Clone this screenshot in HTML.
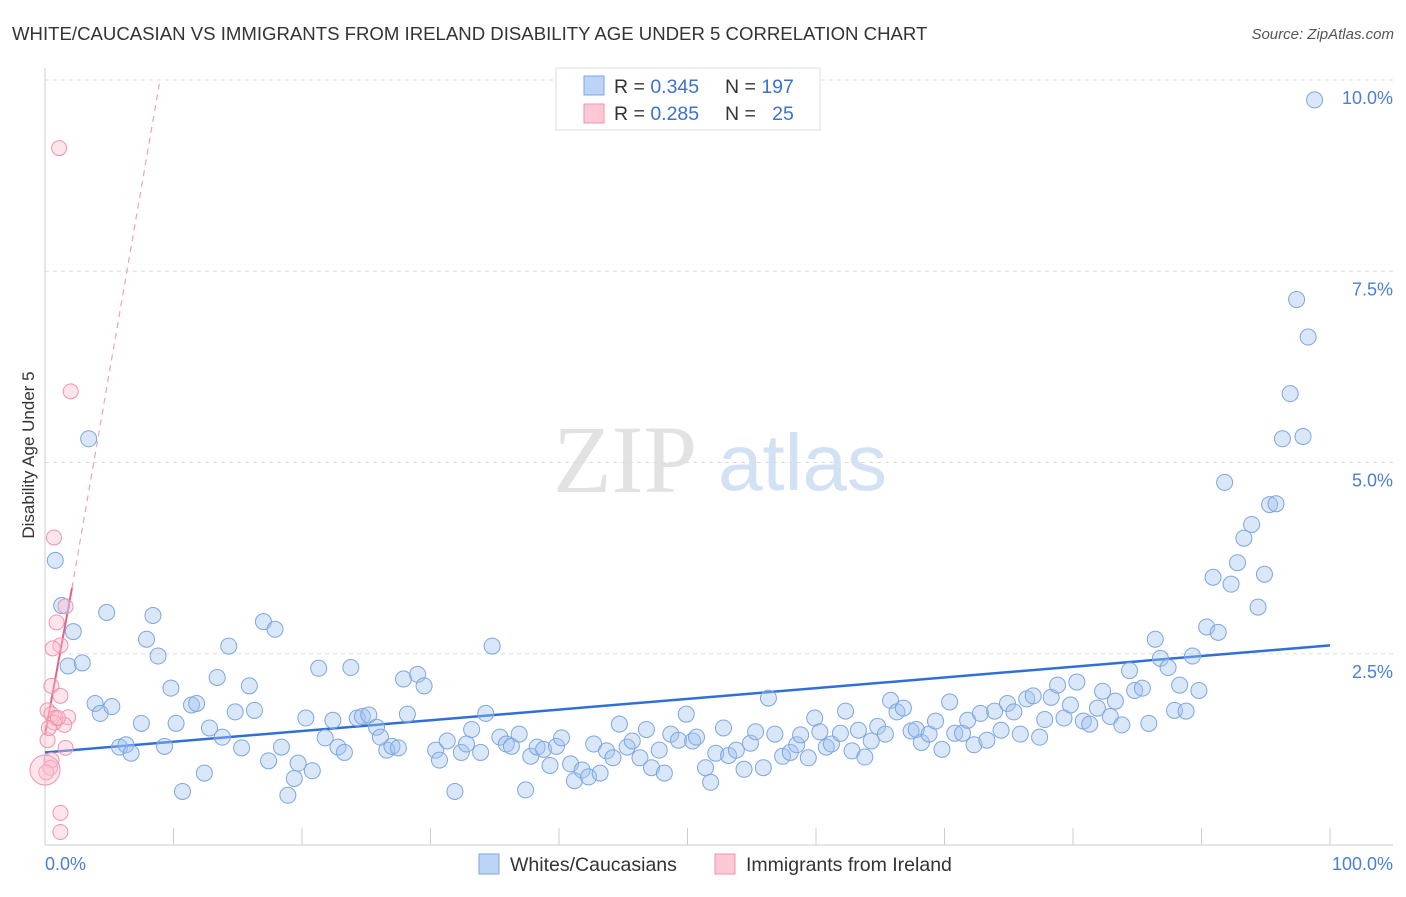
<!DOCTYPE html>
<html><head><meta charset="utf-8"><style>
body{margin:0;background:#fff;font-family:"Liberation Sans",sans-serif;}
svg text{font-family:"Liberation Sans",sans-serif;}
</style></head><body>
<svg id="chart" width="1406" height="892" viewBox="0 0 1406 892" xmlns="http://www.w3.org/2000/svg">
<text x="12" y="40" font-size="18.6" fill="#333">WHITE/CAUCASIAN VS IMMIGRANTS FROM IRELAND DISABILITY AGE UNDER 5 CORRELATION CHART</text>
<text x="1394" y="39" font-size="15" fill="#555" font-style="italic" text-anchor="end">Source: ZipAtlas.com</text>
<g>
<text x="553" y="492" font-size="96" fill="#e2e2e2" style="font-family:'Liberation Serif',serif">ZIP</text>
<text x="718" y="490" font-size="80" fill="#d3e1f4">atlas</text>
</g>
<g id="grid"></g>
<g id="axes"></g>
<g id="lines"></g>
<g id="pts"></g>
<text x="34" y="455" font-size="17" fill="#333" text-anchor="middle" transform="rotate(-90 34 455)">Disability Age Under 5</text>
<text x="45" y="870" font-size="18" fill="#4a7fd5">0.0%</text>
<text x="1393" y="870" font-size="18" fill="#4a7fd5" text-anchor="end">100.0%</text>
<g>
<rect x="556" y="68" width="264" height="62" fill="#fff" stroke="#ddd"/>
<rect x="584" y="76" width="20" height="19" fill="#bcd4f5" stroke="#7ea6e0"/>
<rect x="584" y="104" width="20" height="19" fill="#fcc8d6" stroke="#ef93ae"/>
<text x="614" y="93" font-size="19.5" fill="#333">R = <tspan fill="#3a72d0">0.345</tspan></text>
<text x="725" y="93" font-size="19.5" fill="#333">N = <tspan fill="#3a72d0">197</tspan></text>
<text x="614" y="120" font-size="19.5" fill="#333">R = <tspan fill="#3a72d0">0.285</tspan></text>
<text x="725" y="120" font-size="19.5" fill="#333">N = <tspan fill="#3a72d0">&#160; 25</tspan></text>
</g>
<g>
<rect x="479" y="854" width="20" height="20" fill="#bcd4f5" stroke="#7ea6e0"/>
<text x="510" y="871" font-size="19.5" fill="#333">Whites/Caucasians</text>
<rect x="715" y="854" width="20" height="20" fill="#fcc8d6" stroke="#ef93ae"/>
<text x="746" y="871" font-size="19.5" fill="#333">Immigrants from Ireland</text>
</g>
</svg>
<script>
const yTicks=[2.5,5.0,7.5,10.0];
const yTickLabels=["2.5%","5.0%","7.5%","10.0%"];
const xTicks=[0,10,20,30,40,50,60,70,80,90,100];
const blueX=[3.4,0.8,1.3,2.2,1.8,2.9,3.9,4.3,5.2,4.8,5.8,6.3,6.7,7.5,7.9,8.4,8.8,9.3,9.8,10.2,10.7,11.4,11.8,12.4,12.8,13.4,13.8,14.3,14.8,15.3,15.9,16.3,17.0,17.4,17.9,18.4,18.9,19.4,19.7,20.3,20.8,21.3,21.8,22.4,22.8,23.3,23.8,24.3,24.7,25.2,25.8,26.1,26.6,27.0,27.5,27.9,28.2,29.0,29.5,30.4,30.7,31.3,31.9,32.4,32.8,33.2,33.9,34.3,34.8,35.4,35.9,36.3,36.9,37.4,37.8,38.3,38.8,39.3,39.8,40.2,40.9,41.2,41.8,42.3,42.7,43.2,43.7,44.2,44.7,45.3,45.7,46.3,46.8,47.2,47.8,48.2,48.7,49.3,49.9,50.4,50.7,51.4,51.8,52.2,52.8,53.2,53.8,54.4,54.9,55.3,55.9,56.3,56.8,57.4,58.0,58.5,58.8,59.4,59.9,60.3,60.8,61.2,61.9,62.3,62.8,63.3,63.8,64.3,64.8,65.4,65.8,66.3,66.8,67.4,67.8,68.2,68.8,69.3,69.8,70.4,70.8,71.4,71.8,72.3,72.8,73.3,73.9,74.4,74.9,75.4,75.9,76.4,76.9,77.4,77.8,78.3,78.8,79.3,79.8,80.3,80.8,81.3,81.9,82.3,82.9,83.3,83.8,84.4,84.8,85.4,85.9,86.4,86.8,87.4,87.9,88.3,88.8,89.3,89.8,90.4,90.9,91.3,91.8,92.3,92.8,93.3,93.9,94.4,94.9,95.3,95.8,96.3,96.9,97.4,97.9,98.3,98.8];
const blueY=[5.31,3.72,3.13,2.79,2.34,2.38,1.85,1.72,1.81,3.04,1.28,1.31,1.20,1.59,2.69,3.00,2.47,1.29,2.05,1.59,0.70,1.83,1.85,0.94,1.53,2.19,1.41,2.60,1.74,1.27,2.08,1.76,2.92,1.10,2.82,1.28,0.65,0.87,1.07,1.66,0.97,2.31,1.40,1.63,1.28,1.21,2.32,1.66,1.68,1.70,1.54,1.41,1.24,1.29,1.27,2.17,1.71,2.23,2.08,1.24,1.11,1.36,0.70,1.21,1.32,1.51,1.21,1.72,2.60,1.41,1.32,1.29,1.45,0.72,1.16,1.28,1.25,1.04,1.29,1.40,1.06,0.84,0.98,0.89,1.32,0.94,1.23,1.14,1.58,1.28,1.36,1.14,1.51,1.01,1.24,0.94,1.45,1.37,1.71,1.36,1.41,1.01,0.82,1.20,1.53,1.17,1.24,0.99,1.33,1.48,1.01,1.92,1.45,1.16,1.21,1.31,1.44,1.14,1.66,1.48,1.28,1.32,1.46,1.75,1.23,1.50,1.15,1.36,1.55,1.45,1.89,1.74,1.79,1.49,1.51,1.34,1.45,1.62,1.25,1.87,1.46,1.46,1.63,1.31,1.72,1.37,1.75,1.50,1.85,1.74,1.45,1.91,1.95,1.41,1.64,1.93,2.09,1.66,1.83,2.13,1.62,1.58,1.79,2.01,1.68,1.88,1.57,2.28,2.02,2.05,1.59,2.69,2.44,2.32,1.76,2.09,1.75,2.47,2.02,2.85,3.50,2.78,4.74,3.41,3.69,4.01,4.19,3.11,3.54,4.45,4.46,5.31,5.90,7.13,5.34,6.64,9.74];
const pinkX=[1.1,2.0,0.7,1.6,0.9,1.2,0.6,0.5,1.2,0.2,0.5,1.8,0.8,1.5,0.2,1.6,0.5,0.4,0.1,1.2,1.2,0.7,0.3,1.0];
const pinkY=[9.11,5.93,4.02,3.12,2.91,2.61,2.57,2.08,1.95,1.76,1.71,1.67,1.66,1.57,1.37,1.27,1.11,1.01,0.95,0.42,0.17,1.60,1.53,1.66];
const pinkBigX=[0.0];
const pinkBigY=[0.98];
const blueTrend=[1.21,2.61];
const pinkTrend=[1.44,3.36,9.95];
const pinkTrendX=[0,2.1,8.9];

const X0=45,X1=1330,Y0=845,PX=(Y0-80)/10;
const sx=v=>X0+(X1-X0)*v/100;
const sy=v=>Y0-PX*v;
const NS="http://www.w3.org/2000/svg";
function mk(parent,tag,attrs){const e=document.createElementNS(NS,tag);for(const k in attrs)e.setAttribute(k,attrs[k]);document.getElementById(parent).appendChild(e);return e;}
yTicks.forEach((t,i)=>{
  const l=mk('grid','line',{x1:X0,x2:1393,y1:sy(t),y2:sy(t),stroke:'#ddd','stroke-dasharray':'4,4'});
  
  
  const tx=mk('grid','text',{x:1393,y:sy(t)+24,'font-size':18,fill:'#4a7fd5','text-anchor':'end'});
  tx.textContent=yTickLabels[i];
  
  
});
const ax=mk('axes','line',{x1:X0,x2:X0,y1:68,y2:Y0,stroke:'#ccc'});


const bx=mk('axes','line',{x1:X0,x2:1393,y1:Y0,y2:Y0,stroke:'#ccc'});


xTicks.forEach(t=>{
  const l=mk('axes','line',{x1:sx(t),x2:sx(t),y1:828,y2:Y0,stroke:'#ccc'});
  
  
});
blueX.forEach((v,i)=>{
  const c=mk('pts','circle',{cx:sx(v),cy:sy(blueY[i]),r:8,fill:'rgba(160,195,240,0.4)',stroke:'#7ea6e0','stroke-width':1});
  
  
});
pinkX.forEach((v,i)=>{
  const c=mk('pts','circle',{cx:sx(v),cy:sy(pinkY[i]),r:7.5,fill:'rgba(250,190,205,0.4)',stroke:'#ef93ae','stroke-width':1});
  
  
});
pinkBigX.forEach((v,i)=>{
  const c=mk('pts','circle',{cx:sx(v),cy:sy(pinkBigY[i]),r:15,fill:'rgba(250,190,205,0.4)',stroke:'#ef93ae','stroke-width':1});
  
  
});
const bl=mk('lines','line',{x1:sx(0),y1:sy(blueTrend[0]),x2:sx(100),y2:sy(blueTrend[1]),stroke:'#2f6fd6','stroke-width':2.5});


const pl=mk('lines','line',{x1:sx(pinkTrendX[0]),y1:sy(pinkTrend[0]),x2:sx(pinkTrendX[1]),y2:sy(pinkTrend[1]),stroke:'#e8608a','stroke-width':2});


const pd=mk('lines','line',{x1:sx(pinkTrendX[1]),y1:sy(pinkTrend[1]),x2:sx(pinkTrendX[2]),y2:sy(pinkTrend[2]),stroke:'#f0a0b8','stroke-width':1.2,'stroke-dasharray':'6,5'});


</script>
</body></html>
